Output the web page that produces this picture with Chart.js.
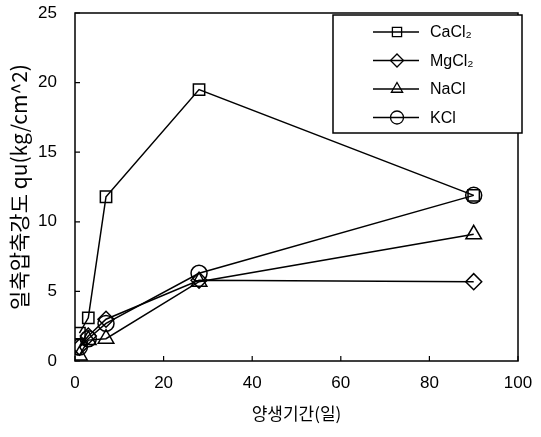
<!DOCTYPE html>
<html>
<head>
<meta charset="utf-8">
<script src="https://cdn.jsdelivr.net/npm/chart.js@4.4.1/dist/chart.umd.min.js"></script>
<style>
  html, body { margin: 0; padding: 0; background: #fff; }
  #wrap { width: 541px; height: 437px; }
</style>
</head>
<body>
<div id="wrap"><canvas id="c" width="541" height="437"></canvas></div>
<script>
// Curing period (days)
const days = [1, 3, 7, 28, 90];

// Unconfined compressive strength qu (kg/cm^2) per salt additive
const cacl2 = [2.0, 3.1, 11.8, 19.5, 11.9];
const mgcl2 = [1.0, 1.8, 3.0, 5.8, 5.7];
const nacl  = [0.4, 1.5, 1.6, 5.7, 9.1];
const kcl   = [1.0, 1.6, 2.7, 6.3, 11.9];

const seriesNames = ['CaCl₂', 'MgCl₂', 'NaCl', 'KCl'];
const seriesData = [cacl2, mgcl2, nacl, kcl];
const markers = ['rect', 'rectRot', 'triangle', 'circle'];
const markerSizes = [8, 8, 9, 8];

const xTicks = [0, 20, 40, 60, 80, 100];
const yTicks = [0, 5, 10, 15, 20, 25];

const tickFont = { family: '"Liberation Sans", Arial, sans-serif', size: 17 };
const xTitleFont = { family: '"Noto Sans CJK KR", sans-serif', size: 17 };
const yTitleFont = { family: '"Noto Sans CJK KR", sans-serif', size: 21 };

const datasets = seriesNames.map((name, i) => ({
  label: name,
  data: days.map((d, j) => ({ x: d, y: seriesData[i][j] })),
  borderColor: '#000',
  borderWidth: 1.5,
  backgroundColor: 'rgba(0,0,0,0)',
  pointStyle: markers[i],
  pointRadius: markerSizes[i],
  pointBorderColor: '#000',
  pointBorderWidth: 1.5,
  pointBackgroundColor: 'rgba(0,0,0,0)',
  showLine: true,
  tension: 0
}));

// Frame, inward ticks and boxed legend drawn on top of the chart area
const framePlugin = {
  id: 'frame',
  afterDraw(chart) {
    const ctx = chart.ctx;
    const a = chart.chartArea;
    const xs = chart.scales.x, ys = chart.scales.y;
    ctx.save();
    ctx.strokeStyle = '#000';
    ctx.lineWidth = 1.5;
    ctx.strokeRect(a.left, a.top, a.right - a.left, a.bottom - a.top);
    ctx.lineWidth = 1.2;
    ctx.beginPath();
    yTicks.forEach(v => {
      const py = ys.getPixelForValue(v);
      ctx.moveTo(a.left, py); ctx.lineTo(a.left + 5, py);
    });
    xTicks.forEach(v => {
      const px = xs.getPixelForValue(v);
      ctx.moveTo(px, a.bottom); ctx.lineTo(px, a.bottom - 5);
    });
    ctx.stroke();

    // legend box
    const bx = a.right - 185, by = a.top + 2, bw = 189, bh = 118;
    ctx.fillStyle = '#fff';
    ctx.fillRect(bx, by, bw, bh);
    ctx.lineWidth = 1.5;
    ctx.strokeRect(bx, by, bw, bh);
    ctx.font = '16px "Liberation Sans", Arial, sans-serif';
    ctx.textBaseline = 'middle';
    seriesNames.forEach((name, i) => {
      const ly = by + 17 + i * 28.5;
      const lx0 = bx + 40, lx1 = bx + 86, cx = bx + 64;
      ctx.strokeStyle = '#000';
      ctx.fillStyle = 'rgba(0,0,0,0)';
      ctx.lineWidth = 1.3;
      ctx.beginPath(); ctx.moveTo(lx0, ly); ctx.lineTo(lx1, ly); ctx.stroke();
      Chart.helpers.drawPoint(ctx, {
        pointStyle: markers[i], radius: 6.5, borderWidth: 1.3
      }, cx, ly);
      ctx.fillStyle = '#000';
      ctx.fillText(name, bx + 97, ly + 1);
    });
    ctx.restore();
  }
};

new Chart(document.getElementById('c'), {
  type: 'scatter',
  data: { datasets },
  options: {
    responsive: false,
    animation: false,
    layout: { padding: { top: 13, right: 23, left: 0, bottom: 0 } },
    plugins: { legend: { display: false }, tooltip: { enabled: false } },
    scales: {
      x: {
        type: 'linear', min: 0, max: 100,
        afterBuildTicks: s => { s.ticks = xTicks.map(v => ({ value: v })); },
        afterFit: s => { s.height = 76; s.paddingLeft = 0; s.paddingRight = 0; },
        grid: { display: false, drawTicks: false },
        border: { display: false },
        ticks: { color: '#000', font: tickFont, padding: 12, maxRotation: 0 },
        title: { display: true, text: '양생기간(일)', color: '#000', font: xTitleFont, padding: { top: 0, bottom: 13 } }
      },
      y: {
        type: 'linear', min: 0, max: 25,
        afterBuildTicks: s => { s.ticks = yTicks.map(v => ({ value: v })); },
        afterFit: s => { s.width = 75; s.paddingTop = 0; s.paddingBottom = 0; },
        grid: { display: false, drawTicks: false },
        border: { display: false },
        ticks: { color: '#000', font: tickFont, padding: 18 },
        title: { display: true, text: '일축압축강도 qu(kg/cm^2)', color: '#000', font: yTitleFont, padding: { top: 6, bottom: 0 } }
      }
    }
  },
  plugins: [framePlugin]
});
</script>
</body>
</html>
